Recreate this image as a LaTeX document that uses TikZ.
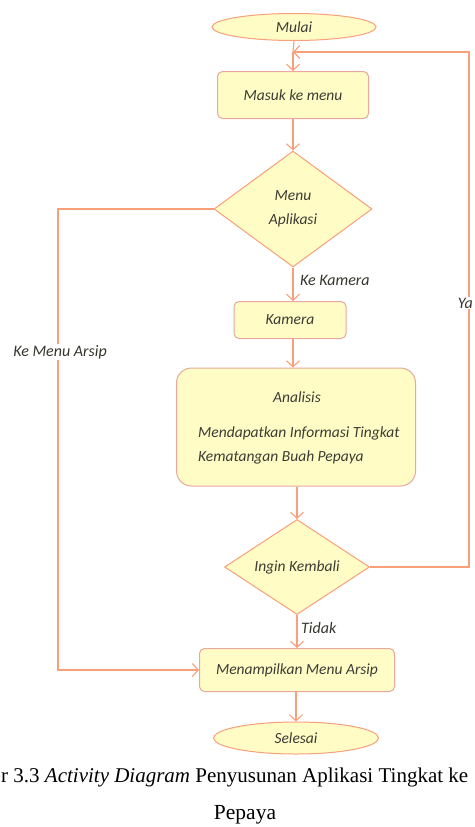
\documentclass[tikz,border=0pt]{standalone}
\usepackage{fontspec}
\setmainfont{Liberation Serif}
\newfontfamily\diafont{Carlito}
\usetikzlibrary{shapes.geometric,arrows.meta}
\definecolor{linecol}{RGB}{248,160,122}
\definecolor{boxborder}{RGB}{232,168,158}
\definecolor{nodefill}{RGB}{255,252,198}
\definecolor{txtcol}{RGB}{60,60,52}
\tikzset{
  x=1pt, y=-1pt,
  flow/.style={draw=linecol, line width=1.1pt},
  flowarr/.style={flow, -{Straight Barb[length=6pt,width=13pt,line width=1.1pt]}},
  dtext/.style={font=\diafont\itshape\fontsize{15.5}{24}\selectfont, text=txtcol},
  actbox/.style={rectangle, rounded corners=5pt, draw=boxborder, fill=nodefill, line width=1pt, inner sep=0pt, dtext},
  termnode/.style={ellipse, draw=linecol, fill=nodefill, line width=1pt, inner sep=0pt, dtext},
  decnode/.style={diamond, draw=linecol, fill=nodefill, line width=1pt, inner sep=0pt, aspect=1.4, dtext, align=center},
  lbl/.style={font=\diafont\itshape\fontsize{16}{18}\selectfont, text=txtcol!90!black, fill=white, inner sep=1pt},
}
\begin{document}
\begin{tikzpicture}
\useasboundingbox (0,0) rectangle (474,827);
\fill[white] (0,0) rectangle (474,827);
% nodes
\node[termnode, minimum width=164pt, minimum height=27pt] (mulai) at (294,27) {Mulai};
\node[actbox, minimum width=151pt, minimum height=47pt] (masuk) at (293,95) {Masuk ke menu};
\node[decnode, minimum width=158pt, minimum height=116pt] (menu) at (293,209) {Menu\\Aplikasi};
\node[actbox, minimum width=112pt, minimum height=37pt] (kamera) at (290,320) {Kamera};
\node[actbox, rounded corners=15pt, minimum width=239pt, minimum height=118pt] (analisis) at (296,427) {};
\node[dtext] (antitle) at (297,397) {Analisis};
\node[dtext, anchor=west, align=left, inner sep=0pt] (andesc) at (198,445) {Mendapatkan Informasi Tingkat\\Kematangan Buah Pepaya};
\node[decnode, minimum width=145pt, minimum height=95pt] (ingin) at (297,567) {Ingin Kembali};
\node[actbox, minimum width=195pt, minimum height=43pt] (arsip) at (297,670) {Menampilkan Menu Arsip};
\node[termnode, minimum width=165pt, minimum height=32pt] (selesai) at (296,738) {Selesai};
% helper coordinates
\coordinate (ret) at (293,52);
\coordinate (rtop) at (469,52);
\coordinate (lcorner) at (58,209);
% connectors
\draw[flow] (mulai.south) -- (ret);
\draw[flowarr] (ret) -- (masuk.north);
\draw[flowarr] (masuk.south) -- (menu.north);
\draw[flowarr] (menu.south) -- (menu.south |- kamera.north);
\draw[flowarr] (menu.south |- kamera.south) -- (menu.south |- analisis.north);
\draw[flowarr] (analisis.south -| ingin.north) -- (ingin.north);
\draw[flowarr] (ingin.south) -- (arsip.north);
\draw[flowarr] (arsip.south -| selesai.north) -- (selesai.north);
\draw[flowarr] (menu.west) -- (lcorner) |- (arsip.west);
\draw[flowarr] (ingin.east) -| (rtop) -- (ret);
% labels
\node[lbl, anchor=west] (lkamera) at (299,280) {Ke Kamera};
\node[lbl] (larsip) at (60,352) {Ke Menu Arsip};
\node[lbl, anchor=east] (lya) at (474,303) {Ya};
\node[lbl, anchor=west, fill=none] (ltidak) at (300,628) {Tidak};
% caption
\node[anchor=base west, inner sep=0pt, font=\fontsize{21}{24}\selectfont] (cap1) at (1,782) {r 3.3 \textit{Activity Diagram} Penyusunan Aplikasi Tingkat ke};
\node[anchor=base, inner sep=0pt, font=\fontsize{21.5}{24}\selectfont] (cap2) at (245,819) {Pepaya};
\end{tikzpicture}
\end{document}
